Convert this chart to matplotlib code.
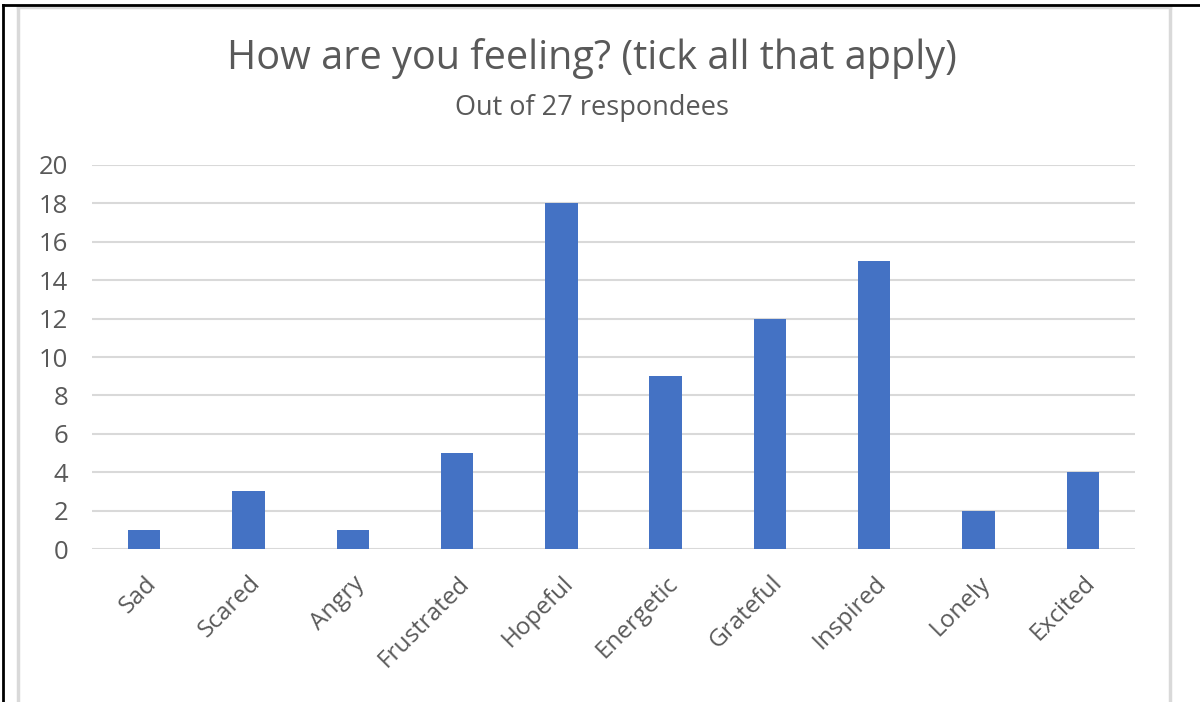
import matplotlib.pyplot as plt
from matplotlib.lines import Line2D

feelings = ['Sad', 'Scared', 'Angry', 'Frustrated', 'Hopeful', 'Energetic',
            'Grateful', 'Inspired', 'Lonely', 'Excited']
counts = [1, 3, 1, 5, 18, 9, 12, 15, 2, 4]
y_ticks = list(range(0, 21, 2))

plt.rcParams['font.family'] = ['Open Sans', 'DejaVu Sans']
text_grey = '#595959'
grid_grey = '#d9d9d9'

fig = plt.figure(figsize=(12, 7.02), dpi=100)
ax = fig.add_axes([0.0767, 0.2179, 0.8691, 0.5471])

x = range(len(feelings))
ax.bar(x, counts, width=0.31, color='#4472c4', zorder=3)
ax.set_xlim(-0.5, len(feelings) - 0.5)
ax.set_ylim(0, 20)
ax.set_yticks(y_ticks)
ax.set_xticks(list(x))
ax.set_xticklabels(feelings, rotation=45, ha='right', rotation_mode='anchor')
ax.tick_params(axis='both', length=0, labelcolor=text_grey)
ax.tick_params(axis='y', pad=17, labelsize=18.5)
ax.tick_params(axis='x', pad=16, labelsize=17.5)
ax.grid(axis='y', color=grid_grey, linewidth=1.5, zorder=0)
for s in ax.spines.values():
    s.set_visible(False)

fig.text(0.493, 0.917, 'How are you feeling? (tick all that apply)',
         ha='center', va='center', fontsize=28.5, color=text_grey)
fig.text(0.493, 0.846, 'Out of 27 respondees',
         ha='center', va='center', fontsize=19.5, color=text_grey)

# chart area border (grey) and outer black frame
H = 702
def fy(p):
    return 1 - p / H
fig.add_artist(Line2D([18 / 1200, 18 / 1200], [0, fy(7)], color=grid_grey, lw=2.5))
fig.add_artist(Line2D([18 / 1200, 1170 / 1200], [fy(7), fy(7)], color=grid_grey, lw=2.5))
fig.add_artist(Line2D([1170 / 1200, 1170 / 1200], [0, fy(7)], color=grid_grey, lw=2.5))
fig.add_artist(Line2D([3 / 1200, 3 / 1200], [0, fy(5)], color='black', lw=2))
fig.add_artist(Line2D([3 / 1200, 1, ], [fy(5), fy(5)], color='black', lw=2))

fig.savefig('out.png', dpi=100)
